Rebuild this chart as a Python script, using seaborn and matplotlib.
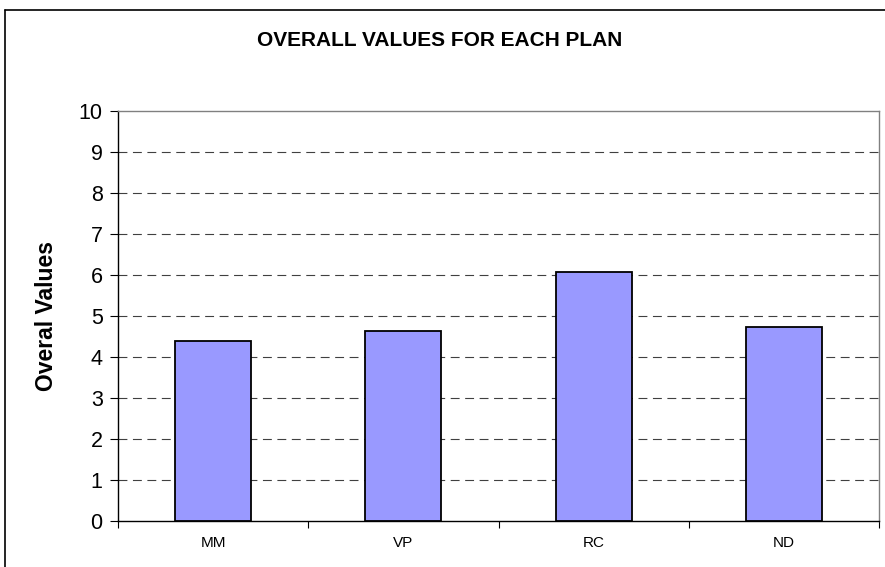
import matplotlib
matplotlib.use('Agg')
import matplotlib.pyplot as plt
from matplotlib.lines import Line2D
from matplotlib.ticker import FixedLocator
import pandas as pd
import seaborn as sns

# chart data
plans = ["MM", "VP", "RC", "ND"]
overall_values = [4.40, 4.63, 6.07, 4.74]
y_ticks = list(range(0, 11))

sns.set_style("white")
plt.rcParams['font.family'] = ['Liberation Sans', 'DejaVu Sans']
plt.rcParams['text.color'] = 'black'
plt.rcParams['xtick.color'] = 'black'
plt.rcParams['ytick.color'] = 'black'

df = pd.DataFrame({"plan": plans, "value": overall_values})

fig = plt.figure(figsize=(8.85, 5.67), dpi=100)
ax = fig.add_axes([118 / 885, 1 - 521 / 567, (879 - 118) / 885, (521 - 111) / 567])

sns.barplot(data=df, x="plan", y="value", color="#9999FF", saturation=1,
            width=0.4, edgecolor="black", linewidth=1.3, ax=ax, zorder=3)

ax.set_xlim(-0.5, len(plans) - 0.5)
ax.set_ylim(0, 10)
ax.set_yticks(y_ticks)
ax.set_yticklabels([str(t) for t in y_ticks], fontsize=15.5)

# dashed gridlines
for t in y_ticks[1:-1]:
    ax.axhline(t, color="#404040", lw=0.8, ls=(0, (8, 5)), zorder=1)

# ticks between categories
ax.xaxis.set_minor_locator(FixedLocator([i - 0.5 for i in range(len(plans) + 1)]))
ax.tick_params(axis="x", which="major", length=0, labelsize=11, pad=11)
ax.tick_params(axis="x", which="minor", length=5, width=0.8, color="black", direction="out", bottom=True)
ax.tick_params(axis="y", length=6, width=0.8, color="black", direction="out", left=True, pad=5)

for side in ["left", "bottom"]:
    ax.spines[side].set_color("black")
    ax.spines[side].set_linewidth(1.0)
for side in ["top", "right"]:
    ax.spines[side].set_color("#808080")
    ax.spines[side].set_linewidth(1.0)

ax.set_xlabel("")
ax.set_ylabel("")
fig.text(47 / 885, 1 - 316 / 567, "Overal Values", rotation=90, ha="center", va="center",
         fontsize=16.5, fontweight="bold")

fig.text(440 / 885, 1 - 40 / 567, "OVERALL VALUES FOR EACH PLAN",
         ha="center", va="center", fontsize=15, fontweight="bold")

# outer chart frame
fig.add_artist(Line2D([5 / 885, 5 / 885], [0, 1 - 10 / 567], color="black", lw=1.2, transform=fig.transFigure))
fig.add_artist(Line2D([5 / 885, 1], [1 - 10 / 567, 1 - 10 / 567], color="black", lw=1.2, transform=fig.transFigure))

fig.savefig("out.png", dpi=100)
